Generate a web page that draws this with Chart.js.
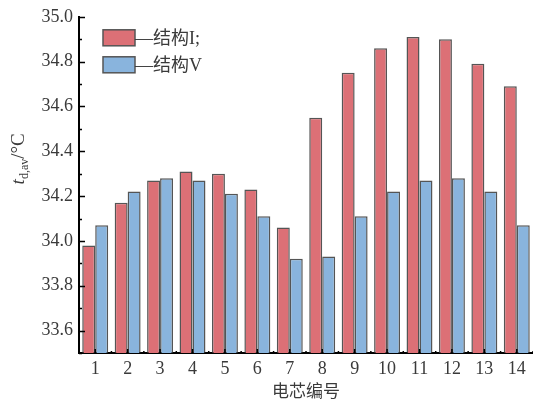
<!DOCTYPE html>
<html>
<head>
<meta charset="utf-8">
<script src="https://cdn.jsdelivr.net/npm/chart.js@4/dist/chart.umd.min.js"></script>
<style>
  html, body { margin: 0; padding: 0; background: #fff; overflow: hidden; }
  #wrap { width: 533px; height: 403px; }
</style>
</head>
<body>
<div id="wrap"><canvas id="c" width="533" height="403"></canvas></div>
<script>
// Average chip temperature per cell, two structures
const chips = ['1', '2', '3', '4', '5', '6', '7', '8', '9', '10', '11', '12', '13', '14'];
const structI = [33.98, 34.17, 34.27, 34.31, 34.30, 34.23, 34.06, 34.55, 34.75, 34.86, 34.91, 34.90, 34.79, 34.69];
const structV = [34.07, 34.22, 34.28, 34.27, 34.21, 34.11, 33.92, 33.93, 34.11, 34.22, 34.27, 34.28, 34.22, 34.07];
const seriesNames = ['结构I;', '结构V'];
const yMajorTicks = [33.6, 33.8, 34.0, 34.2, 34.4, 34.6, 34.8, 35.0];
const yMinorTicks = [33.5, 33.7, 33.9, 34.1, 34.3, 34.5, 34.7, 34.9];
const yRange = [33.5, 35.0];

const serif = '"Liberation Serif", "Times New Roman", "Noto Sans CJK SC", serif';
const cjk = '"Noto Sans CJK SC", sans-serif';
const textColor = '#3a3a3a';

// Inward tick marks on both axes
const innerTicks = {
  id: 'innerTicks',
  afterDatasetsDraw(chart) {
    const { ctx, chartArea: a, scales: { x, y } } = chart;
    ctx.save();
    ctx.strokeStyle = '#000';
    ctx.lineWidth = 1.5;
    ctx.beginPath();
    yMajorTicks.forEach(v => { const p = Math.round(y.getPixelForValue(v)) + 0.5; ctx.moveTo(a.left, p); ctx.lineTo(a.left + 6, p); });
    yMinorTicks.forEach(v => { const p = Math.round(y.getPixelForValue(v)) + 0.5; ctx.moveTo(a.left, p); ctx.lineTo(a.left + 3, p); });
    chips.forEach((c, i) => {
      const p = x.getPixelForValue(i);
      ctx.moveTo(p, a.bottom); ctx.lineTo(p, a.bottom - 4);
      const b = p + (x.getPixelForValue(1) - x.getPixelForValue(0)) / 2;
      ctx.moveTo(b, a.bottom); ctx.lineTo(b, a.bottom - 2);
    });
    ctx.stroke();
    ctx.restore();
  }
};

// Legend inside the plot: box, dash, label
const innerLegend = {
  id: 'innerLegend',
  afterDraw(chart) {
    const { ctx, chartArea: a } = chart;
    ctx.save();
    chart.data.datasets.forEach((ds, i) => {
      const bx = a.left + 24, by = a.top + 13 + i * 27;
      ctx.fillStyle = ds.backgroundColor;
      ctx.fillRect(bx, by, 32, 16);
      ctx.strokeStyle = '#555';
      ctx.lineWidth = 1.5;
      ctx.strokeRect(bx, by, 32, 16);
      ctx.fillStyle = textColor;
      ctx.font = '18px ' + serif;
      ctx.textBaseline = 'middle';
      ctx.fillText('—' + ds.label, bx + 32, by + 9);
    });
    ctx.restore();
  }
};

// Rotated y-axis title with italic symbol and subscript
const yTitle = {
  id: 'yTitle',
  afterDraw(chart) {
    const { ctx, chartArea: a } = chart;
    ctx.save();
    ctx.translate(a.left - 61, a.top + 142);
    ctx.rotate(-Math.PI / 2);
    ctx.fillStyle = textColor;
    ctx.textBaseline = 'alphabetic';
    const parts = [
      { t: 't', f: 'italic 19px ' + serif, dy: 0 },
      { t: 'd,av', f: '12px ' + serif, dy: 4 },
      { t: '/°C', f: '19px ' + serif, dy: 0 }
    ];
    let w = 0;
    parts.forEach(p => { ctx.font = p.f; w += ctx.measureText(p.t).width; });
    let cx = -w / 2;
    parts.forEach(p => { ctx.font = p.f; ctx.fillText(p.t, cx, 6 + p.dy); cx += ctx.measureText(p.t).width; });
    ctx.restore();
  }
};

new Chart(document.getElementById('c'), {
  type: 'bar',
  data: {
    labels: chips,
    datasets: [
      { label: seriesNames[0], data: structI, backgroundColor: '#DC7076', borderColor: 'rgba(55,55,55,0.85)', borderWidth: 1.5 },
      { label: seriesNames[1], data: structV, backgroundColor: '#89B4DD', borderColor: 'rgba(55,55,55,0.85)', borderWidth: 1.5 }
    ]
  },
  options: {
    responsive: false,
    animation: false,
    devicePixelRatio: 1,
    layout: { padding: { top: 11, right: 0, left: 0, bottom: 0 } },
    datasets: { bar: { categoryPercentage: 0.8, barPercentage: 1.0 } },
    plugins: { legend: { display: false }, tooltip: { enabled: false } },
    scales: {
      x: {
        grid: { display: false, drawTicks: false },
        border: { display: true, color: '#000', width: 2 },
        ticks: { color: textColor, font: { family: serif, size: 18 }, padding: 5, maxRotation: 0, autoSkip: false },
        title: { display: true, text: '电芯编号', color: textColor, font: { family: cjk, size: 17 }, padding: { top: 0, bottom: 2 } },
        afterFit(s) { s.height = 50; }
      },
      y: {
        min: yRange[0],
        max: yRange[1],
        grid: { display: false, drawTicks: false },
        border: { display: true, color: '#000', width: 2 },
        ticks: { color: textColor, font: { family: serif, size: 18 }, padding: 6, callback: v => Number(v).toFixed(1) },
        afterBuildTicks(s) { s.ticks = yMajorTicks.map(v => ({ value: v })); },
        afterFit(s) { s.width = 79; }
      }
    }
  },
  plugins: [innerTicks, innerLegend, yTitle]
});
</script>
</body>
</html>
